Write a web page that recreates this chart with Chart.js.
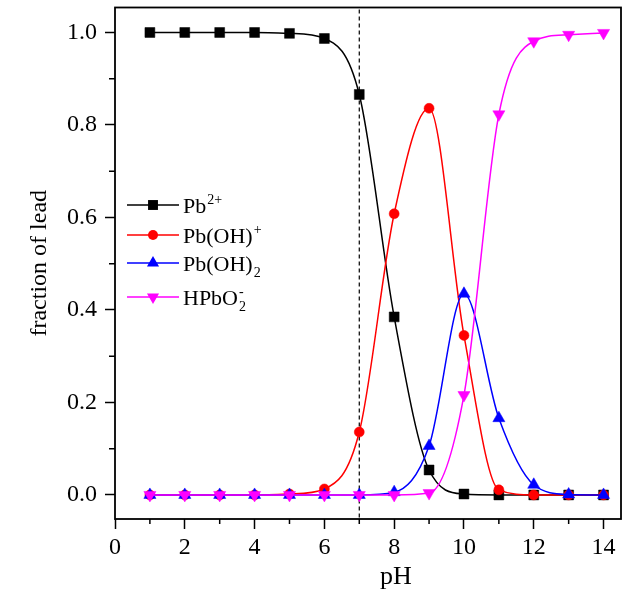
<!DOCTYPE html>
<html><head><meta charset="utf-8">
<script src="https://cdn.jsdelivr.net/npm/chart.js@4.4.0/dist/chart.umd.min.js"></script>
<style>html,body{margin:0;padding:0;background:#fff;}#wrap{width:636px;height:590px;}</style>
</head><body><div id="wrap"><canvas id="c" width="636" height="590"></canvas></div>
<script>
const pH = [1,2,3,4,5,6,7,8,9,10,11,12,13,14];
const pb2 = [1.000,1.000,1.000,1.000,0.998,0.987,0.866,0.385,0.054,0.002,0.000,0.000,0.000,0.000];
const pbOH = [0,0,0,0,0.002,0.013,0.136,0.608,0.836,0.345,0.011,0,0,0];
const pbOH2 = [0,0,0,0,0,0,0,0.006,0.106,0.435,0.166,0.022,0.001,0];
const hpbo2 = [0,0,0,0,0,0,0,0,0.004,0.216,0.823,0.981,0.995,0.999];
const seriesLabels = ['Pb^{2+}','Pb(OH)^{+}','Pb(OH)_{2}','HPbO_{2}^{-}'];
const xMajorTicks = [0,2,4,6,8,10,12,14];
const xTickLabels = ['0','2','4','6','8','10','12','14'];
const xMinorTicks = [1,3,5,7,9,11,13];
const yMajorTicks = [0,0.2,0.4,0.6,0.8,1.0];
const yTickLabels = ['0.0','0.2','0.4','0.6','0.8','1.0'];
const yMinorTicks = [0.1,0.3,0.5,0.7,0.9];
const xTitle = 'pH';
const yTitle = 'fraction of lead';
const refLinePH = 7;

const SERIF = "'Liberation Serif','Times New Roman',serif";
const styles = [
  {color:'#000000', pointStyle:'rect', radius:7, rotation:0},
  {color:'#ff0000', pointStyle:'circle', radius:5, rotation:0},
  {color:'#0000ff', pointStyle:'triangle', radius:7, rotation:0},
  {color:'#ff00ff', pointStyle:'triangle', radius:7, rotation:180}
];
const seriesValues = [pb2, pbOH, pbOH2, hpbo2];
const drawOrder = [3,2,1,0];

const datasets = seriesValues.map((vals, i) => ({
  label: seriesLabels[i],
  data: pH.map((x, j) => ({x: x, y: vals[j]})),
  borderColor: styles[i].color,
  backgroundColor: styles[i].color,
  borderWidth: 1.5,
  pointStyle: styles[i].pointStyle,
  pointRadius: styles[i].radius,
  pointRotation: styles[i].rotation,
  pointBorderWidth: 0.5,
  pointBackgroundColor: styles[i].color,
  pointBorderColor: styles[i].color,
  cubicInterpolationMode: 'monotone',
  fill: false,
  order: drawOrder[i]
}));

function drawMarker(ctx, st, x, y) {
  ctx.save();
  ctx.fillStyle = st.color;
  ctx.beginPath();
  const r = st.radius;
  if (st.pointStyle === 'rect') {
    const s = Math.SQRT1_2 * r;
    ctx.rect(x - s, y - s, 2*s, 2*s);
  } else if (st.pointStyle === 'circle') {
    ctx.arc(x, y, r, 0, Math.PI*2);
  } else {
    let rad = st.rotation * Math.PI / 180;
    ctx.moveTo(x + Math.sin(rad)*r, y - Math.cos(rad)*r);
    rad += 2*Math.PI/3;
    ctx.lineTo(x + Math.sin(rad)*r, y - Math.cos(rad)*r);
    rad += 2*Math.PI/3;
    ctx.lineTo(x + Math.sin(rad)*r, y - Math.cos(rad)*r);
    ctx.closePath();
  }
  ctx.fill();
  ctx.restore();
}

function drawRichText(ctx, text, x, y, size) {
  const re = /(\^\{[^}]*\}|_\{[^}]*\})/g;
  const parts = text.split(re).filter(p => p.length);
  let cx = x;
  let lastSubW = 0;
  for (let k = 0; k < parts.length; k++) {
    const p = parts[k];
    if (p.startsWith('^{')) {
      const t = p.slice(2, -1);
      ctx.font = Math.round(size*0.62) + 'px ' + SERIF;
      const startX = lastSubW ? cx - lastSubW : cx;
      ctx.fillText(t, startX + 1, y - size*0.42);
      const w = ctx.measureText(t).width + 1;
      cx = Math.max(cx, startX + 1 + w);
      lastSubW = 0;
    } else if (p.startsWith('_{')) {
      const t = p.slice(2, -1);
      ctx.font = Math.round(size*0.62) + 'px ' + SERIF;
      ctx.fillText(t, cx + 1, y + size*0.28);
      const w = ctx.measureText(t).width + 1;
      cx += w; lastSubW = w;
    } else {
      ctx.font = size + 'px ' + SERIF;
      ctx.fillText(p, cx, y);
      cx += ctx.measureText(p).width;
      lastSubW = 0;
    }
  }
}

const decor = {
  id: 'decor',
  beforeDatasetsDraw(chart) {
    const {ctx, chartArea, scales} = chart;
    const px = scales.x.getPixelForValue(refLinePH);
    ctx.save();
    ctx.strokeStyle = '#000';
    ctx.lineWidth = 1.2;
    ctx.setLineDash([4, 3]);
    ctx.beginPath();
    ctx.moveTo(px, chartArea.top + 2);
    ctx.lineTo(px, chartArea.bottom);
    ctx.stroke();
    ctx.restore();
  },
  afterDatasetsDraw(chart) {
    const {ctx} = chart;
    const rows = [205, 235, 263, 297];
    ctx.save();
    ctx.textBaseline = 'alphabetic';
    for (let i = 0; i < seriesLabels.length; i++) {
      const y = rows[i];
      ctx.strokeStyle = styles[i].color;
      ctx.lineWidth = 1.5;
      ctx.beginPath();
      ctx.moveTo(127, y); ctx.lineTo(179, y);
      ctx.stroke();
      drawMarker(ctx, styles[i], 153, y);
      ctx.fillStyle = '#000';
      drawRichText(ctx, seriesLabels[i], 183, y + 8, 22);
    }
    ctx.restore();
  },
  afterDraw(chart) {
    const {ctx, chartArea, scales} = chart;
    ctx.save();
    ctx.strokeStyle = '#000';
    ctx.lineWidth = 1.5;
    ctx.beginPath();
    xMinorTicks.forEach(v => {
      const p = scales.x.getPixelForValue(v);
      ctx.moveTo(p, chartArea.bottom); ctx.lineTo(p, chartArea.bottom + 5);
    });
    yMinorTicks.forEach(v => {
      const p = scales.y.getPixelForValue(v);
      ctx.moveTo(chartArea.left - 6, p); ctx.lineTo(chartArea.left, p);
    });
    ctx.stroke();
    ctx.lineWidth = 1.8;
    ctx.strokeRect(chartArea.left, chartArea.top, chartArea.right - chartArea.left, chartArea.bottom - chartArea.top);
    ctx.fillStyle = '#000';
    ctx.font = '26px ' + SERIF;
    ctx.textAlign = 'center';
    ctx.textBaseline = 'middle';
    ctx.fillText(xTitle, 396, 577);
    ctx.restore();
  }
};

new Chart(document.getElementById('c'), {
  type: 'line',
  data: {datasets: datasets},
  plugins: [decor],
  options: {
    responsive: false,
    animation: false,
    devicePixelRatio: 1,
    layout: {padding: {left: 0, right: 15, top: 6, bottom: 0}},
    plugins: {legend: {display: false}, tooltip: {enabled: false}},
    scales: {
      x: {
        type: 'linear', min: 0, max: 14.5,
        afterBuildTicks: s => { s.ticks = xMajorTicks.map(v => ({value: v})); },
        afterFit: s => { s.height = 71; s.paddingLeft = 0; s.paddingRight = 0; },
        ticks: {callback: (v, i) => xTickLabels[i], font: {family: SERIF, size: 24}, color: '#000', padding: 4, maxRotation: 0, autoSkip: false},
        grid: {drawOnChartArea: false, tickLength: 10, tickWidth: 1.5, tickColor: '#000', color: '#000'},
        border: {display: false},
        title: {display: false}
      },
      y: {
        type: 'linear', min: -0.052, max: 1.054,
        afterBuildTicks: s => { s.ticks = yMajorTicks.map(v => ({value: v})); },
        afterFit: s => { s.width = 115; s.paddingTop = 0; s.paddingBottom = 0; },
        ticks: {callback: (v, i) => yTickLabels[i], font: {family: SERIF, size: 24}, color: '#000', padding: 8, autoSkip: false},
        grid: {drawOnChartArea: false, tickLength: 10, tickWidth: 1.5, tickColor: '#000', color: '#000'},
        border: {display: false},
        title: {display: true, text: yTitle, font: {family: SERIF, size: 24, lineHeight: 1}, color: '#000', padding: {top: 28, bottom: 0}}
      }
    }
  }
});
</script>
</body></html>
